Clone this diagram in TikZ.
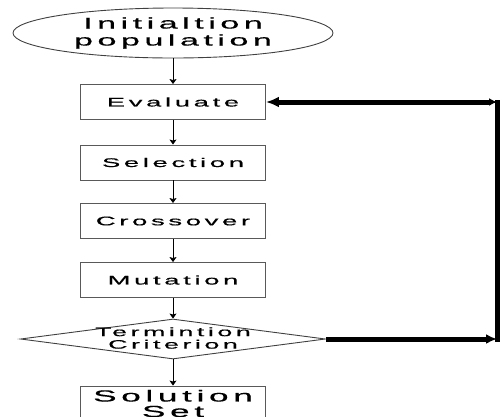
\documentclass[tikz,border=0pt]{standalone}
\usepackage{fontspec}
\setmainfont{Liberation Sans}
\newfontfamily\wf[FakeStretch=2.2,LetterSpace=29,FakeBold=0.5]{Liberation Sans}
\usetikzlibrary{shapes.geometric,arrows.meta}
\begin{document}
\begin{tikzpicture}[x=1pt,y=-1pt,
  box/.style={draw=black!65, line width=0.9pt, minimum width=185pt, minimum height=35pt, inner sep=0pt, align=center, font=\wf\fontsize{12.5}{12.5}\selectfont},
  startnode/.style={ellipse, draw=black!75, line width=0.9pt, minimum width=320pt, minimum height=50pt, inner sep=0pt, align=center, font=\wf\fontsize{15.5}{17}\selectfont},
  decision/.style={diamond, draw=black!75, line width=0.9pt, minimum width=305pt, minimum height=40pt, inner sep=0pt},
  dtext/.style={inner sep=0pt, align=center, font=\wf\fontsize{12.2}{12.5}\selectfont},
  endbox/.style={box, font=\wf\fontsize{16}{15.5}\selectfont},
  flow/.style={draw=black, line width=0.8pt, -{Stealth[length=5pt,width=7pt,inset=1pt]}},
  fb/.style={draw=black, line width=5pt}
]
\useasboundingbox (0,0) rectangle (502,416);
\node[startnode] (init) at (173,33) {Initialtion\\population};
\node[box] (eval) at (173,102) {Evaluate};
\node[box] (sel) at (173,162.5) {Selection};
\node[box] (cross) at (173,221) {Crossover};
\node[box] (mut) at (173,280) {Mutation};
\node[decision] (term) at (173,339) {};
\node[dtext] (termtxt) at (173,338) {Termintion\\Criterion};
\node[endbox] (sol) at (173,403.5) {Solution\\Set};
\coordinate (c1) at (497,339);
\coordinate (c2) at (c1 |- eval.east);
\draw[flow] (init) -- (eval);
\draw[flow] (eval) -- (sel);
\draw[flow] (sel) -- (cross);
\draw[flow] (cross) -- (mut);
\draw[flow] (mut) -- (term.north);
\draw[flow] (term.south) -- (sol);
\draw[fb, -{Latex[length=11pt,width=10pt]}] (term.east) -- (c1);
\draw[fb, line cap=rect] (c1) -- (c2);
\draw[fb, {Latex[length=8pt,width=8pt]}-{Latex[length=13pt,width=11pt]}] (c2) -- (eval.east);
\end{tikzpicture}
\end{document}
